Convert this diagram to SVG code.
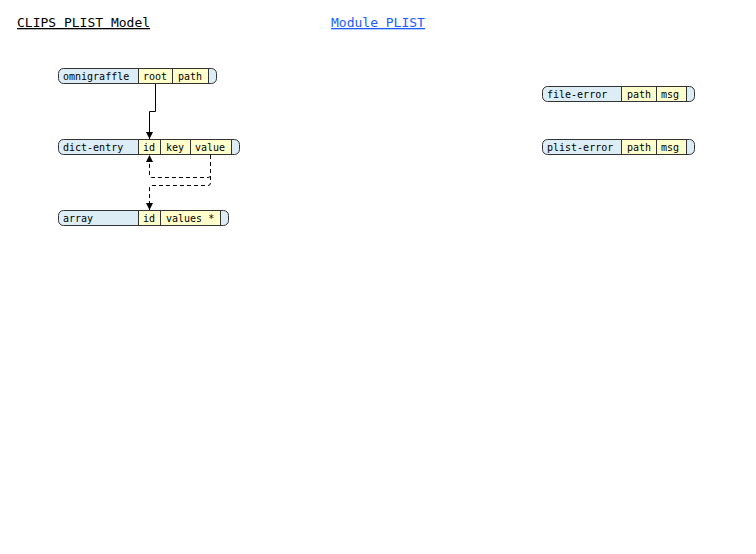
<svg xmlns="http://www.w3.org/2000/svg" width="756" height="554" viewBox="0 0 756 554">
<style>
text{font-family:"DejaVu Sans Mono","Liberation Mono",monospace;}
.t{font-size:13px;text-decoration:underline;}
.n{font-size:10px;fill:#000;}
.box{fill:#dcedf6;stroke:none;}
.out{fill:none;stroke:#333;stroke-width:1;}
.f{fill:#ffffcc;stroke:#333;stroke-width:1;}
.c{fill:none;stroke:#000;stroke-width:1;}
.d{fill:none;stroke:#000;stroke-width:1;stroke-dasharray:4,3;}
</style>
<defs>
<marker id="ah" viewBox="0 0 10 10" refX="10" refY="5" markerWidth="7" markerHeight="8" markerUnits="userSpaceOnUse" orient="auto">
<path d="M0,0 L10,5 L0,10 z" fill="#000"/>
</marker>
</defs>
<rect width="756" height="554" fill="#fff"/>
<text class="t" x="17" y="27" fill="#000">CLIPS PLIST Model</text>
<text class="t" x="331" y="27" fill="#1a5cff">Module PLIST</text>

<g id="omnigraffle">
<rect class="box" x="58.5" y="68.5" width="158" height="15" rx="5"/>
<rect class="f" x="138.5" y="68.5" width="34" height="15"/>
<rect class="f" x="172.5" y="68.5" width="36" height="15"/>
<rect class="out" x="58.5" y="68.5" width="158" height="15" rx="5"/>
<text class="n" x="63" y="79.5">omnigraffle</text>
<text class="n" x="143" y="79.5">root</text>
<text class="n" x="178" y="79.5">path</text>
</g>

<g id="dict-entry">
<rect class="box" x="58.5" y="139.5" width="181" height="15" rx="5"/>
<rect class="f" x="138.5" y="139.5" width="22" height="15"/>
<rect class="f" x="160.5" y="139.5" width="30" height="15"/>
<rect class="f" x="190.5" y="139.5" width="41" height="15"/>
<rect class="out" x="58.5" y="139.5" width="181" height="15" rx="5"/>
<text class="n" x="63" y="150.5">dict-entry</text>
<text class="n" x="143" y="150.5">id</text>
<text class="n" x="166" y="150.5">key</text>
<text class="n" x="195" y="150.5">value</text>
</g>

<g id="array">
<rect class="box" x="58.5" y="210.5" width="170" height="15" rx="5"/>
<rect class="f" x="138.5" y="210.5" width="22" height="15"/>
<rect class="f" x="160.5" y="210.5" width="60" height="15"/>
<rect class="out" x="58.5" y="210.5" width="170" height="15" rx="5"/>
<text class="n" x="63" y="221.5">array</text>
<text class="n" x="143" y="221.5">id</text>
<text class="n" x="166" y="221.5">values *</text>
</g>

<g id="file-error">
<rect class="box" x="542.5" y="86.5" width="152" height="15" rx="5"/>
<rect class="f" x="621.5" y="86.5" width="35" height="15"/>
<rect class="f" x="656.5" y="86.5" width="30" height="15"/>
<rect class="out" x="542.5" y="86.5" width="152" height="15" rx="5"/>
<text class="n" x="547" y="97.5">file-error</text>
<text class="n" x="627" y="97.5">path</text>
<text class="n" x="661" y="97.5">msg</text>
</g>

<g id="plist-error">
<rect class="box" x="542.5" y="139.5" width="152" height="15" rx="5"/>
<rect class="f" x="621.5" y="139.5" width="35" height="15"/>
<rect class="f" x="656.5" y="139.5" width="30" height="15"/>
<rect class="out" x="542.5" y="139.5" width="152" height="15" rx="5"/>
<text class="n" x="547" y="150.5">plist-error</text>
<text class="n" x="627" y="150.5">path</text>
<text class="n" x="661" y="150.5">msg</text>
</g>

<g id="connectors">
<path class="c" d="M155.5,84 V111.5 H149.5 V139" marker-end="url(#ah)"/>
<path class="d" d="M210.5,155 V175 Q210.5,177.5 208,177.5 H152 Q149.5,177.5 149.5,175 V155" marker-end="url(#ah)"/>
<path class="d" d="M210.5,155 V183 Q210.5,185.5 208,185.5 H152 Q149.5,185.5 149.5,188 V210" marker-end="url(#ah)"/>
</g>
</svg>
